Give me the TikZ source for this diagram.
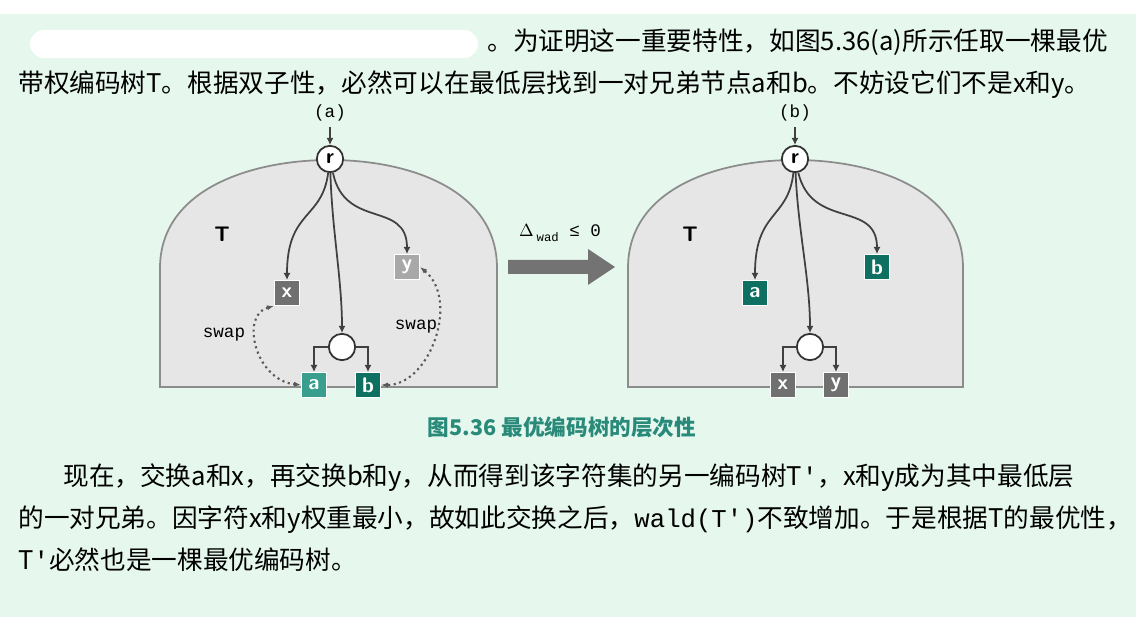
\documentclass[tikz,border=0pt]{standalone}
\usepackage{fontspec}
\setmainfont{Noto Sans CJK SC}
\setmonofont{Liberation Mono}
\usetikzlibrary{arrows.meta}
\definecolor{mint}{HTML}{E6F8EE}
\definecolor{shell}{HTML}{E6E6E6}
\definecolor{tealA}{HTML}{3A9E8E}
\definecolor{tealB}{HTML}{0E7060}
\definecolor{greyX}{HTML}{707070}
\definecolor{greyY}{HTML}{A8A8A8}
\definecolor{capt}{HTML}{2A8A7A}
\tikzset{
  leaf/.style={draw=white, line width=0.8pt, minimum size=14pt, inner sep=0pt, text=white, font=\sffamily\bfseries\fontsize{12}{12}\selectfont},
  knot/.style={circle, draw=black!80, fill=white, line width=1pt, minimum size=15pt, inner sep=0pt},
  edge/.style={draw=black!75, line width=1pt, -{Latex[length=4pt,width=4pt]}},
  swp/.style={draw=black!65, line width=1.2pt, dotted, {Latex[length=4pt]}-{Latex[length=4pt]}},
  body/.style={anchor=base west, inner sep=0pt, font=\fontsize{14.6}{16}\selectfont}
}
\newcommand{\tick}{\texttt{'}}
\begin{document}
\begin{tikzpicture}[x=0.02cm, y=-0.02cm]
\useasboundingbox (0,0) rectangle (1136,617);
\fill[mint] (0,0) rectangle (1136,617);
\fill[white] (0,0) rectangle (1136,14);
\fill[white, rounded corners=8pt] (30,30) rectangle (478,58);
% text
\node[body, anchor=base east] (l1) at (1108,51) {。为证明这一重要特性，如图5.36(a)所示任取一棵最优};
\node[body] (l2) at (18,93) {带权编码树T。根据双子性，必然可以在最低层找到一对兄弟节点a和b。不妨设它们不是x和y。};
\node[body] (l3) at (63,486) {现在，交换a和x，再交换b和y，从而得到该字符集的另一编码树T\tick，x和y成为其中最低层};
\node[body] (l4) at (18,528) {的一对兄弟。因字符x和y权重最小，故如此交换之后，\texttt{wald(T')}不致增加。于是根据T的最优性，};
\node[body] (l5) at (18,570) {T\tick 必然也是一棵最优编码树。};
\node[text=capt, font=\bfseries\fontsize{12.3}{13}\selectfont] (cap) at (562,427) {图5.36 最优编码树的层次性};
% left tree
\draw[fill=shell, draw=black!45, line width=1pt] (160,387) -- (160,268) .. controls (160,190) and (250,160) .. (330,160) .. controls (410,160) and (497,190) .. (497,268) -- (497,387) -- cycle;
\node[font=\sffamily\bfseries\fontsize{12}{12}\selectfont] (tl) at (222,234) {T};
\node[knot] (r1) at (330,159) {\sffamily\bfseries\fontsize{12}{12}\selectfont r};
\node[font=\ttfamily\fontsize{10}{10}\selectfont] (la) at (330,113) {(a)};
\draw[edge, line width=0.7pt] (la) -- (r1);
\node[leaf, fill=greyX] (x1) at (287,293) {x};
\node[leaf, fill=greyY] (y1) at (407,267) {y};
\node[knot] (m1) at (342,347) {};
\node[leaf, fill=tealA] (a1) at (314,385) {a};
\node[leaf, fill=tealB] (b1) at (368,385) {b};
\draw[edge] (r1) .. controls (322,220) and (287,210) .. (x1);
\draw[edge] (r1) .. controls (345,230) and (407,200) .. (y1);
\draw[edge] (r1) .. controls (332,230) and (342,280) .. (m1);
\draw[edge] (m1.west) -| (a1);
\draw[edge] (m1.east) -| (b1);
\draw[swp] (x1.south west) .. controls (240,315) and (255,380) .. (a1.west);
\draw[swp] (y1.east) .. controls (460,300) and (430,385) .. (b1.east);
\node[font=\ttfamily\fontsize{10}{10}\selectfont] (s1) at (224,335) {swap};
\node[font=\ttfamily\fontsize{10}{10}\selectfont] (s2) at (416,327) {swap};
% big arrow
\fill[black!55] (508,260) -- (588,260) -- (588,249) -- (615,267) -- (588,285) -- (588,274) -- (508,274) -- cycle;
\node[font=\ttfamily\fontsize{10}{10}\selectfont] (dw) at (560,233) {$\Delta$\,\raisebox{-3pt}{\fontsize{7}{7}\selectfont wad} ≤ 0};
% right tree
\draw[fill=shell, draw=black!45, line width=1pt] (628,387) -- (628,268) .. controls (628,190) and (715,160) .. (795,160) .. controls (875,160) and (963,190) .. (963,268) -- (963,387) -- cycle;
\node[font=\sffamily\bfseries\fontsize{12}{12}\selectfont] (tr) at (690,234) {T};
\node[knot] (r2) at (795,159) {\sffamily\bfseries\fontsize{12}{12}\selectfont r};
\node[font=\ttfamily\fontsize{10}{10}\selectfont] (lb) at (795,113) {(b)};
\draw[edge, line width=0.7pt] (lb) -- (r2);
\node[leaf, fill=tealB] (a2) at (755,293) {a};
\node[leaf, fill=tealB] (b2) at (877,267) {b};
\node[knot] (m2) at (810,347) {};
\node[leaf, fill=greyX] (x2) at (783,385) {x};
\node[leaf, fill=greyX] (y2) at (836,385) {y};
\draw[edge] (r2) .. controls (788,220) and (755,210) .. (a2);
\draw[edge] (r2) .. controls (812,230) and (877,200) .. (b2);
\draw[edge] (r2) .. controls (798,230) and (810,280) .. (m2);
\draw[edge] (m2.west) -| (x2);
\draw[edge] (m2.east) -| (y2);
\end{tikzpicture}
\end{document}
